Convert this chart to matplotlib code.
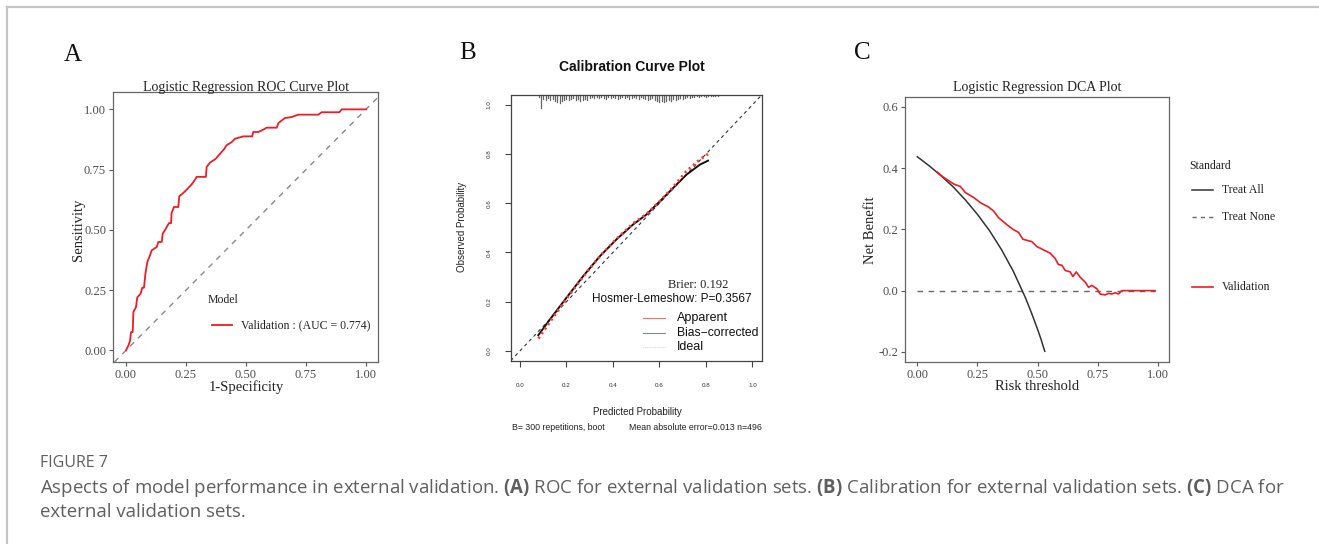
import matplotlib
matplotlib.use("Agg")
import matplotlib.pyplot as plt
from matplotlib.lines import Line2D

# ---------------- data ----------------
roc_fpr = [0, 0.010, 0.017, 0.021, 0.028, 0.031, 0.042, 0.047, 0.061, 0.068, 0.075, 0.081, 0.089,
           0.100, 0.107, 0.128, 0.135, 0.149, 0.153, 0.163, 0.179, 0.188, 0.190, 0.200, 0.218,
           0.222, 0.235, 0.253, 0.274, 0.290, 0.294, 0.333, 0.336, 0.350, 0.374, 0.392, 0.408,
           0.419, 0.440, 0.454, 0.489, 0.526, 0.530, 0.551, 0.572, 0.586, 0.628, 0.635, 0.649,
           0.662, 0.690, 0.718, 0.801, 0.815, 0.889, 0.899, 1.0]
roc_tpr = [0, 0.020, 0.040, 0.076, 0.076, 0.160, 0.180, 0.220, 0.235, 0.260, 0.260, 0.318, 0.367,
           0.394, 0.415, 0.429, 0.450, 0.450, 0.484, 0.500, 0.528, 0.528, 0.570, 0.595, 0.595,
           0.640, 0.650, 0.667, 0.689, 0.712, 0.720, 0.720, 0.761, 0.779, 0.795, 0.816, 0.834,
           0.851, 0.864, 0.878, 0.888, 0.888, 0.906, 0.906, 0.916, 0.924, 0.924, 0.943, 0.954,
           0.964, 0.968, 0.978, 0.978, 0.988, 0.988, 1.0, 1.0]
roc_ticks = [0, 0.25, 0.5, 0.75, 1.0]
roc_ticklabels = ["0.00", "0.25", "0.50", "0.75", "1.00"]

cal_pred = [0.079, 0.129, 0.200, 0.272, 0.344, 0.415, 0.487, 0.544, 0.602, 0.659, 0.716, 0.774, 0.809]
cal_bias = [0.064, 0.128, 0.216, 0.304, 0.385, 0.453, 0.514, 0.554, 0.608, 0.662, 0.716, 0.757, 0.773]
cal_app = [0.050, 0.118, 0.212, 0.302, 0.385, 0.455, 0.518, 0.556, 0.608, 0.666, 0.730, 0.778, 0.800]
cal_ticks = [0.0, 0.2, 0.4, 0.6, 0.8, 1.0]
cal_ticklabels = ["0.0", "0.2", "0.4", "0.6", "0.8", "1.0"]
rug_x = [0.08, 0.09, 0.10, 0.11, 0.12, 0.13, 0.14, 0.15, 0.16, 0.17, 0.18, 0.19, 0.20, 0.21, 0.22,
         0.23, 0.24, 0.25, 0.26, 0.27, 0.28, 0.29, 0.30, 0.31, 0.32, 0.33, 0.34, 0.35, 0.36, 0.37,
         0.38, 0.39, 0.40, 0.41, 0.42, 0.43, 0.44, 0.45, 0.46, 0.47, 0.48, 0.49, 0.50, 0.51, 0.52,
         0.53, 0.54, 0.55, 0.56, 0.57, 0.58, 0.59, 0.60, 0.61, 0.62, 0.63, 0.64, 0.65, 0.66, 0.67,
         0.68, 0.69, 0.70, 0.71, 0.72, 0.73, 0.74, 0.75, 0.76, 0.77, 0.78, 0.79, 0.80, 0.81, 0.82,
         0.83, 0.84, 0.85]
rug_count = [2, 13, 4, 5, 3, 5, 4, 6, 7, 8, 6, 5, 4, 5, 4,
             3, 5, 4, 6, 5, 4, 5, 3, 2, 3, 2, 3, 2, 3, 4,
             2, 3, 2, 3, 4, 3, 2, 3, 2, 4, 3, 2, 3, 4, 2,
             3, 4, 5, 4, 3, 5, 6, 7, 6, 7, 6, 5, 6, 4, 5,
             4, 3, 4, 3, 2, 3, 2, 2, 1, 2, 1, 1, 2, 1, 1,
             1, 1, 1]

dca_all_t = [0, 0.05, 0.10, 0.15, 0.20, 0.25, 0.30, 0.35, 0.40, 0.435, 0.45, 0.475, 0.50, 0.515, 0.53]
dca_all_nb = [0.437, 0.407, 0.374, 0.338, 0.296, 0.249, 0.196, 0.134, 0.062, 0.002, -0.024,
              -0.073, -0.126, -0.160, -0.198]
dca_none_t = [0.0, 0.99]
dca_none_nb = [0.0, 0.0]
dca_val_t = [0.082, 0.109, 0.151, 0.179, 0.200, 0.234, 0.248, 0.262, 0.296, 0.317, 0.338, 0.373,
             0.400, 0.421, 0.439, 0.456, 0.476, 0.497, 0.525, 0.553, 0.573, 0.587, 0.601, 0.615,
             0.636, 0.647, 0.661, 0.677, 0.698, 0.712, 0.726, 0.747, 0.760, 0.781, 0.795, 0.809,
             0.823, 0.837, 0.850, 0.989]
dca_val_nb = [0.387, 0.370, 0.348, 0.340, 0.320, 0.304, 0.296, 0.287, 0.273, 0.260, 0.238, 0.215,
              0.199, 0.190, 0.168, 0.164, 0.160, 0.144, 0.133, 0.122, 0.105, 0.085, 0.083, 0.066,
              0.061, 0.046, 0.061, 0.044, 0.028, 0.011, 0.017, 0.006, -0.011, -0.014, -0.009, -0.011,
              -0.007, -0.011, 0.0, 0.0]
dca_xticks = [0, 0.25, 0.5, 0.75, 1.0]
dca_xticklabels = ["0.00", "0.25", "0.50", "0.75", "1.00"]
dca_yticks = [-0.2, 0.0, 0.2, 0.4, 0.6]
dca_yticklabels = ["-0.2", "0.0", "0.2", "0.4", "0.6"]

# ---------------- setup ----------------
SERIF = ["Liberation Serif", "DejaVu Serif"]
SANS = ["Liberation Sans", "DejaVu Sans"]
CAPFONT = ["Open Sans", "DejaVu Sans"]
plt.rcParams["font.family"] = SERIF
plt.rcParams["mathtext.fontset"] = "custom"
plt.rcParams["mathtext.rm"] = "Open Sans"
plt.rcParams["mathtext.bf"] = "Open Sans:bold"

W, H = 1319, 544
fig = plt.figure(figsize=(W / 100, H / 100), dpi=100)


def fx(px):
    return px / W


def fy(py):
    return 1 - py / H


def box(l, t, r, b):
    return [fx(l), fy(b), (r - l) / W, (b - t) / H]


def ftext(x, y, s, **kw):
    return fig.text(fx(x), fy(y), s, **kw)


# outer frame
fig.add_artist(Line2D([fx(7), 1], [fy(6.5), fy(6.5)], color="#c4c4c4", lw=1.6))
fig.add_artist(Line2D([fx(7), fx(7)], [fy(6.5), 0], color="#c4c4c4", lw=1.6))

GREY_TXT = "#4D4D4D"
RED = "#EE1C25"

# ---------------- Panel A ----------------
axA = fig.add_axes(box(113, 92, 378, 362))
axA.axline((0, 0), (1, 1), color="#888888", lw=1.0, ls=(0, (4, 4)), zorder=2)
axA.plot(roc_fpr, roc_tpr, color=RED, lw=1.3, zorder=3)
axA.set_xlim(-0.054, 1.05)
axA.set_ylim(-0.048, 1.072)
axA.set_xticks(roc_ticks)
axA.set_xticklabels(roc_ticklabels)
axA.set_yticks(roc_ticks)
axA.set_yticklabels(roc_ticklabels)
for sp in axA.spines.values():
    sp.set_color("#666666")
    sp.set_linewidth(0.9)
axA.tick_params(colors="#555555", labelcolor=GREY_TXT, length=3, width=0.8, labelsize=9, pad=2)
ftext(246, 87, "Logistic Regression ROC Curve Plot", ha="center", va="center", fontsize=10, color="#222222")
ftext(246, 387, "1-Specificity", ha="center", va="center", fontsize=10.5, color="#222222")
ftext(78, 230, "Sensitivity", ha="center", va="center", rotation=90, fontsize=10.5, color="#222222")
ftext(73, 55, "A", ha="center", va="center", fontsize=18, color="#111111")
ftext(208, 300, "Model", ha="left", va="center", fontsize=8.5, color="#222222")
fig.add_artist(Line2D([fx(212), fx(232)], [fy(325), fy(325)], color=RED, lw=1.3))
ftext(241, 325, "Validation : (AUC = 0.774)", ha="left", va="center", fontsize=8.5, color="#222222")

# ---------------- Panel B ----------------
axB = fig.add_axes(box(510.7, 95, 761.7, 360.7))
axB.set_xlim(-0.04, 1.04)
axB.set_ylim(-0.04, 1.04)
axB.axline((0, 0), (1, 1), color="#333333", lw=0.8, ls=(0, (3, 3)), zorder=2)
axB.plot(cal_pred, cal_bias, color="#111111", lw=1.4, zorder=3)
axB.plot(cal_pred, cal_app, color="#FF3B3B", lw=2.0, ls=(0, (0.8, 1.2)), zorder=4)
rug_scale = 1.0 / 246.7
for xv, cv in zip(rug_x, rug_count):
    axB.plot([xv, xv], [1.04, 1.04 - cv * rug_scale], color="#666666", lw=0.9, zorder=2, clip_on=False)
axB.set_xticks(cal_ticks)
axB.set_xticklabels(cal_ticklabels)
axB.set_yticks(cal_ticks)
axB.set_yticklabels(cal_ticklabels, rotation=90, va="center")
for sp in axB.spines.values():
    sp.set_color("#444444")
    sp.set_linewidth(0.9)
axB.tick_params(colors="#444444", labelcolor="#333333", length=4, width=0.8, labelsize=4.5)
axB.tick_params(axis="x", pad=12)
axB.tick_params(axis="y", pad=10)
for lab in axB.get_xticklabels() + axB.get_yticklabels():
    lab.set_family(SANS)
ftext(632, 67, "Calibration Curve Plot", ha="center", va="center", fontsize=10, fontweight="bold",
      family=SANS, color="#111111")
ftext(637, 412, "Predicted Probability", ha="center", va="center", fontsize=7, family=SANS, color="#222222")
ftext(462, 227, "Observed Probability", ha="center", va="center", rotation=90, fontsize=7, family=SANS,
      color="#222222")
ftext(512, 427, "B= 300 repetitions, boot", ha="left", va="center", fontsize=6.3, family=SANS, color="#222222")
ftext(762, 427, "Mean absolute error=0.013 n=496", ha="right", va="center", fontsize=6.3, family=SANS,
      color="#222222")
ftext(728, 285, "Brier: 0.192", ha="right", va="center", fontsize=9, color="#222222")
ftext(752, 298.5, "Hosmer-Lemeshow: P=0.3567", ha="right", va="center", fontsize=8.5, family=SANS,
      color="#111111")
fig.add_artist(Line2D([fx(643), fx(665)], [fy(318), fy(318)], color="#F07070", lw=0.8))
fig.add_artist(Line2D([fx(643), fx(665)], [fy(332.5), fy(332.5)], color="#888888", lw=0.8))
fig.add_artist(Line2D([fx(643), fx(665)], [fy(346.5), fy(346.5)], color="#cccccc", lw=0.6, ls=(0, (1, 1))))
ftext(677, 318, "Apparent", ha="left", va="center", fontsize=9, family=SANS, color="#111111")
ftext(677, 332.5, "Bias\u2212corrected", ha="left", va="center", fontsize=8.7, family=SANS, color="#111111")
ftext(677, 346.5, "Ideal", ha="left", va="center", fontsize=9, family=SANS, color="#111111")
ftext(468, 53, "B", ha="center", va="center", fontsize=18, color="#111111")

# ---------------- Panel C ----------------
axC = fig.add_axes(box(905.3, 96.7, 1169.3, 361.7))
axC.plot(dca_none_t, dca_none_nb, color="#666666", lw=1.0, ls=(0, (4, 4)), zorder=2)
axC.plot(dca_all_t, dca_all_nb, color="#333333", lw=1.1, zorder=3)
axC.plot(dca_val_t, dca_val_nb, color=RED, lw=1.2, zorder=4)
axC.set_xlim(-0.05, 1.048)
axC.set_ylim(-0.232, 0.633)
axC.set_xticks(dca_xticks)
axC.set_xticklabels(dca_xticklabels)
axC.set_yticks(dca_yticks)
axC.set_yticklabels(dca_yticklabels)
for sp in axC.spines.values():
    sp.set_color("#666666")
    sp.set_linewidth(0.9)
axC.tick_params(colors="#555555", labelcolor=GREY_TXT, length=3, width=0.8, labelsize=9, pad=2)
ftext(1037, 87, "Logistic Regression DCA Plot", ha="center", va="center", fontsize=10, color="#222222")
ftext(1037, 387, "Risk threshold", ha="center", va="center", fontsize=10.5, color="#222222")
ftext(870, 230, "Net Benefit", ha="center", va="center", rotation=90, fontsize=10.5, color="#222222")
ftext(862, 53, "C", ha="center", va="center", fontsize=18, color="#111111")
ftext(1189, 166, "Standard", ha="left", va="center", fontsize=8.5, color="#222222")
fig.add_artist(Line2D([fx(1192), fx(1213)], [fy(190), fy(190)], color="#333333", lw=1.1))
ftext(1222, 190, "Treat All", ha="left", va="center", fontsize=8.5, color="#222222")
fig.add_artist(Line2D([fx(1192), fx(1213)], [fy(216.7), fy(216.7)], color="#666666", lw=1.0, ls=(0, (3, 3))))
ftext(1222, 216.7, "Treat None", ha="left", va="center", fontsize=8.5, color="#222222")
fig.add_artist(Line2D([fx(1192), fx(1213)], [fy(286.7), fy(286.7)], color=RED, lw=1.2))
ftext(1222, 286.7, "Validation", ha="left", va="center", fontsize=8.5, color="#222222")

# ---------------- caption ----------------
CAP = "#5f5f5f"
ftext(40, 463, "FIGURE 7", ha="left", va="center", fontsize=11.5, family=CAPFONT, color=CAP)
line1 = (r"Aspects of model performance in external validation. $\mathbf{(A)}$ ROC for external validation "
         r"sets. $\mathbf{(B)}$ Calibration for external validation sets. $\mathbf{(C)}$ DCA for")
ftext(40, 488, line1, ha="left", va="center", fontsize=13.4, family=CAPFONT, color=CAP)
ftext(40, 512, "external validation sets.", ha="left", va="center", fontsize=13.4,
      family=CAPFONT, color=CAP)

fig.savefig("out.png", dpi=100)
